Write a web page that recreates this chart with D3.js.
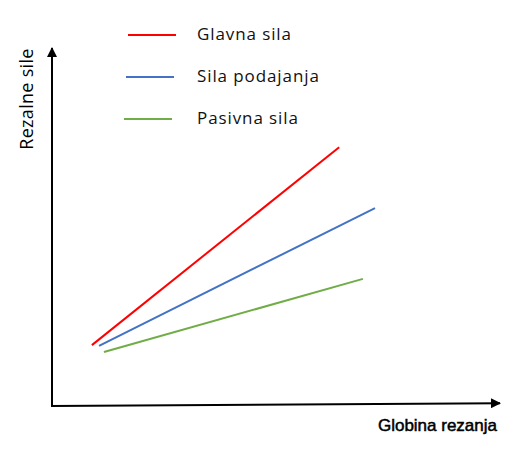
<!DOCTYPE html>
<meta charset="utf-8">
<html>
<head>
<title>Rezalne sile</title>
<style>
  body { margin: 0; background: #fff; }
  .legend text { font-family: "Open Sans", "Noto Sans", sans-serif; font-size: 17px; fill: #111; letter-spacing: 0.9px; }
  .ylabel { font-family: "Open Sans", "Noto Sans", sans-serif; font-size: 18px; fill: #000; letter-spacing: 0.3px; }
  .xlabel { font-family: "Liberation Sans", Arial, sans-serif; font-size: 17px; fill: #000; stroke: #000; stroke-width: 0.5px; }
</style>
<script src="https://d3js.org/d3.v7.min.js"></script>
</head>
<body>
<svg width="529" height="455"></svg>
<script>
  // series (globina rezanja -> sila, relative units)
  var names = ["Glavna sila", "Sila podajanja", "Pasivna sila"];
  var colors = ["#ff0000", "#4472c4", "#70ad47"];
  var glavna = [[8.9, 17.0], [64.1, 72.3]];
  var podajanja = [[10.5, 16.8], [72.1, 55.3]];
  var pasivna = [[11.6, 15.1], [69.4, 35.5]];
  var series = [glavna, podajanja, pasivna];

  var svg = d3.select("svg");

  var x = d3.scaleLinear().domain([0, 100]).range([52, 500]);
  var y = d3.scaleLinear().domain([0, 100]).range([406, 48]);

  // arrow marker
  svg.append("defs").append("marker")
      .attr("id", "arrow")
      .attr("viewBox", "0 0 10 10")
      .attr("refX", 9).attr("refY", 5)
      .attr("markerWidth", 6).attr("markerHeight", 5)
      .attr("markerUnits", "strokeWidth")
      .attr("orient", "auto")
    .append("path")
      .attr("d", "M0,0 L10,5 L0,10 Z")
      .attr("fill", "#000");

  // axes
  svg.append("line")
      .attr("x1", x(0)).attr("y1", y(0))
      .attr("x2", x(0)).attr("y2", y(100))
      .attr("stroke", "#000").attr("stroke-width", 2)
      .attr("marker-end", "url(#arrow)");
  svg.append("line")
      .attr("x1", x(0) - 1).attr("y1", y(0))
      .attr("x2", x(100)).attr("y2", y(0.8))
      .attr("stroke", "#000").attr("stroke-width", 2)
      .attr("marker-end", "url(#arrow)");

  // lines
  var line = d3.line()
      .x(function(d) { return x(d[0]); })
      .y(function(d) { return y(d[1]); });
  svg.append("g").selectAll("path")
      .data(series)
      .enter().append("path")
      .attr("d", line)
      .attr("fill", "none")
      .attr("stroke", function(d, i) { return colors[i]; })
      .attr("stroke-width", 2);

  // legend
  var lg = svg.append("g").attr("class", "legend");
  var item = lg.selectAll("g")
      .data(names)
      .enter().append("g")
      .attr("transform", function(d, i) { return "translate(0," + (35 + i * 42) + ")"; });
  item.append("line")
      .attr("x1", function(d, i) { return 128 - i * 2; })
      .attr("x2", function(d, i) { return 176 - i * 2; })
      .attr("y1", 0).attr("y2", 0)
      .attr("stroke", function(d, i) { return colors[i]; })
      .attr("stroke-width", 2);
  item.append("text")
      .attr("x", 197).attr("y", 5)
      .text(function(d) { return d; });

  // axis labels
  svg.append("text")
      .attr("class", "ylabel")
      .attr("transform", "translate(33,99) rotate(-90)")
      .attr("text-anchor", "middle")
      .text("Rezalne sile");
  svg.append("text")
      .attr("class", "xlabel")
      .attr("x", 497).attr("y", 431)
      .attr("text-anchor", "end")
      .text("Globina rezanja");
</script>
</body>
</html>
